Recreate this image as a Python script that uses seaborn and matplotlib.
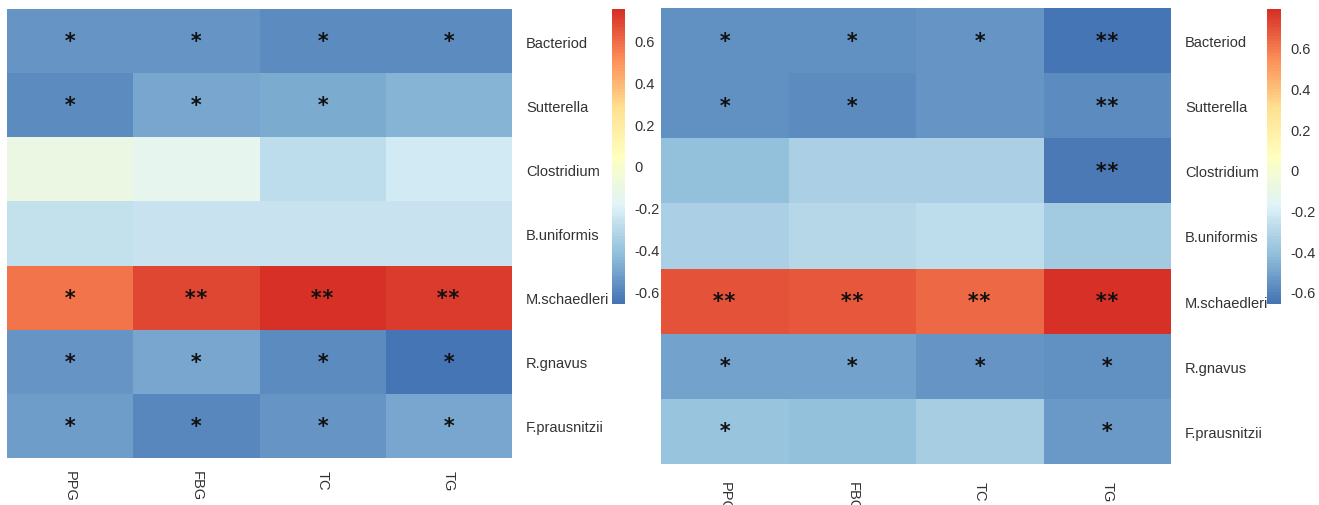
import numpy as np
import pandas as pd
import matplotlib
matplotlib.use("Agg")
import matplotlib.pyplot as plt
import seaborn as sns
from matplotlib.colors import LinearSegmentedColormap

sns.set_theme(style="white")
plt.rcParams["font.family"] = ["Liberation Sans", "DejaVu Sans"]

taxa = ["Bacteriod", "Sutterella", "Clostridium", "B.uniformis",
        "M.schaedleri", "R.gnavus", "F.prausnitzii"]
indices = ["PPG", "FBG", "TC", "TG"]

# correlation coefficients, panel 1
corr_a = [
    [-0.55, -0.55, -0.58, -0.58],
    [-0.58, -0.50, -0.48, -0.46],
    [-0.10, -0.14, -0.29, -0.23],
    [-0.27, -0.26, -0.26, -0.26],
    [0.58, 0.68, 0.75, 0.71],
    [-0.55, -0.50, -0.58, -0.66],
    [-0.52, -0.60, -0.56, -0.50],
]
sig_a = [
    ["*", "*", "*", "*"],
    ["*", "*", "*", ""],
    ["", "", "", ""],
    ["", "", "", ""],
    ["*", "**", "**", "**"],
    ["*", "*", "*", "*"],
    ["*", "*", "*", "*"],
]

# correlation coefficients, panel 2
corr_b = [
    [-0.56, -0.56, -0.545, -0.66],
    [-0.56, -0.58, -0.545, -0.58],
    [-0.40, -0.34, -0.34, -0.64],
    [-0.34, -0.31, -0.28, -0.36],
    [0.69, 0.68, 0.64, 0.79],
    [-0.515, -0.515, -0.545, -0.56],
    [-0.39, -0.40, -0.35, -0.53],
]
sig_b = [
    ["*", "*", "*", "**"],
    ["*", "*", "", "**"],
    ["", "", "", "**"],
    ["", "", "", ""],
    ["**", "**", "**", "**"],
    ["*", "*", "*", "*"],
    ["*", "", "", "*"],
]

cbar_ticks = [0.6, 0.4, 0.2, 0.0, -0.2, -0.4, -0.6]
cbar_labels = ["0.6", "0.4", "0.2", "0", "-0.2", "-0.4", "-0.6"]

palette = ["#4575B4", "#91BFDB", "#E0F3F8", "#FFFFBF", "#FEE090", "#FC8D59", "#D73027"]
cmap = LinearSegmentedColormap.from_list("rdylbu7", palette, N=100)

W, H = 1319, 506
fig = plt.figure(figsize=(W / 100, H / 100), dpi=100)


def box(x0, y0, x1, y1):
    return [x0 / W, 1 - y1 / H, (x1 - x0) / W, (y1 - y0) / H]


def panel(values, stars, hm_box, cb_box, xpad):
    df = pd.DataFrame(values, index=taxa, columns=indices)
    ax = fig.add_axes(box(*hm_box))
    cax = fig.add_axes(box(*cb_box))
    vmin, vmax = df.values.min(), df.values.max()
    sns.heatmap(df, ax=ax, cbar_ax=cax, cmap=cmap, vmin=vmin, vmax=vmax,
                annot=np.array(stars), fmt="",
                annot_kws={"color": "#111111", "fontsize": 15,
                           "family": "DejaVu Sans Mono", "fontweight": "bold"},
                linewidths=0)
    ax.yaxis.tick_right()
    ax.set_yticklabels(taxa, rotation=0, fontsize=10.5, ha="left", color="#333333")
    ax.set_xticklabels(indices, rotation=270, fontsize=10.5, va="top", color="#333333")
    ax.tick_params(axis="x", length=0, pad=xpad)
    ax.tick_params(axis="y", length=0, pad=10)
    ax.set_xlabel("")
    ax.set_ylabel("")
    cbar = ax.collections[0].colorbar
    cbar.outline.set_visible(False)
    cbar.set_ticks(cbar_ticks)
    cbar.set_ticklabels(cbar_labels)
    cax.tick_params(length=0, pad=7, labelsize=10.5, labelcolor="#333333")


panel(corr_a, sig_a, (7, 10, 512, 459), (612, 10, 625, 305), 9)
panel(corr_b, sig_b, (661, 9, 1171, 465), (1267, 10, 1281, 305), 12)

fig.savefig("out.png", dpi=100)
